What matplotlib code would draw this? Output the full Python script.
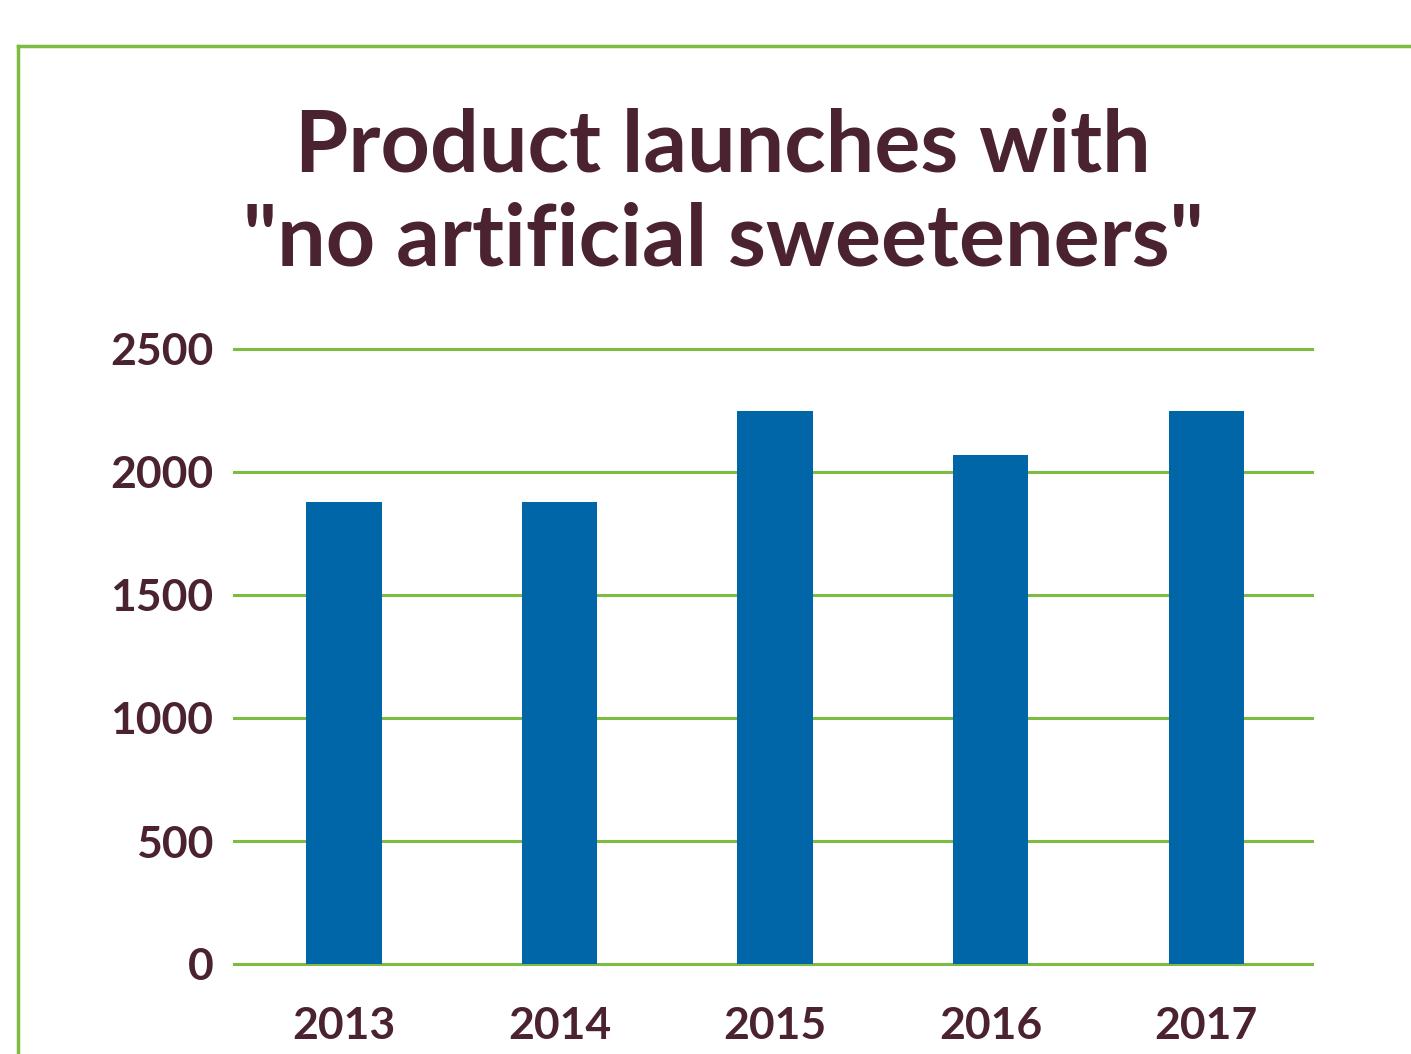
import matplotlib
matplotlib.use("Agg")
import matplotlib.pyplot as plt
from matplotlib.lines import Line2D

years = ["2013", "2014", "2015", "2016", "2017"]
launches = [1880, 1880, 2250, 2070, 2250]
y_ticks = [0, 500, 1000, 1500, 2000, 2500]
title_lines = ["Product launches with", '"no artificial sweeteners"']

BAR_COLOR = "#0066a7"
GREEN = "#7dbb42"
TEXT = "#4b2230"
W, H = 1411, 1054

plt.rcParams["font.family"] = ["Lato", "DejaVu Sans"]

fig = plt.figure(figsize=(W / 100, H / 100), dpi=100)
ax = fig.add_axes([234 / W, 1 - 964 / H, (1312 - 234) / W, (964 - 349) / H])

x = range(len(years))
ax.bar(x, launches, width=0.35, color=BAR_COLOR, zorder=3)
ax.set_xlim(-0.51, 4.49)
ax.set_ylim(0, 2500)
ax.set_yticks(y_ticks)
ax.set_yticklabels([str(t) for t in y_ticks], fontsize=32, fontweight="bold", color=TEXT)
ax.set_xticks(list(x))
ax.set_xticklabels(years, fontsize=32, fontweight="bold", color=TEXT)
ax.tick_params(length=0)
ax.tick_params(axis="y", pad=15)
ax.tick_params(axis="x", pad=30)
ax.yaxis.grid(True, color=GREEN, lw=2.2, zorder=0)
for gl in ax.get_ygridlines():
    gl.set_clip_on(False)
ax.set_axisbelow(True)
for side in ("top", "right", "left", "bottom"):
    ax.spines[side].set_visible(False)

# two-line title, each line on its own baseline
for line, base in zip(title_lines, [172, 265]):
    fig.text(723 / W, 1 - base / H, line, ha="center", va="baseline",
             fontsize=62, fontweight="bold", color=TEXT)

# frame lines along the top and left edge
fig.add_artist(Line2D([18 / W, 18 / W], [0, 1 - 46 / H], transform=fig.transFigure,
                      color=GREEN, lw=2.5))
fig.add_artist(Line2D([18 / W, 1], [1 - 46 / H, 1 - 46 / H], transform=fig.transFigure,
                      color=GREEN, lw=2.5))

fig.savefig("out.png", dpi=100, facecolor="white")
